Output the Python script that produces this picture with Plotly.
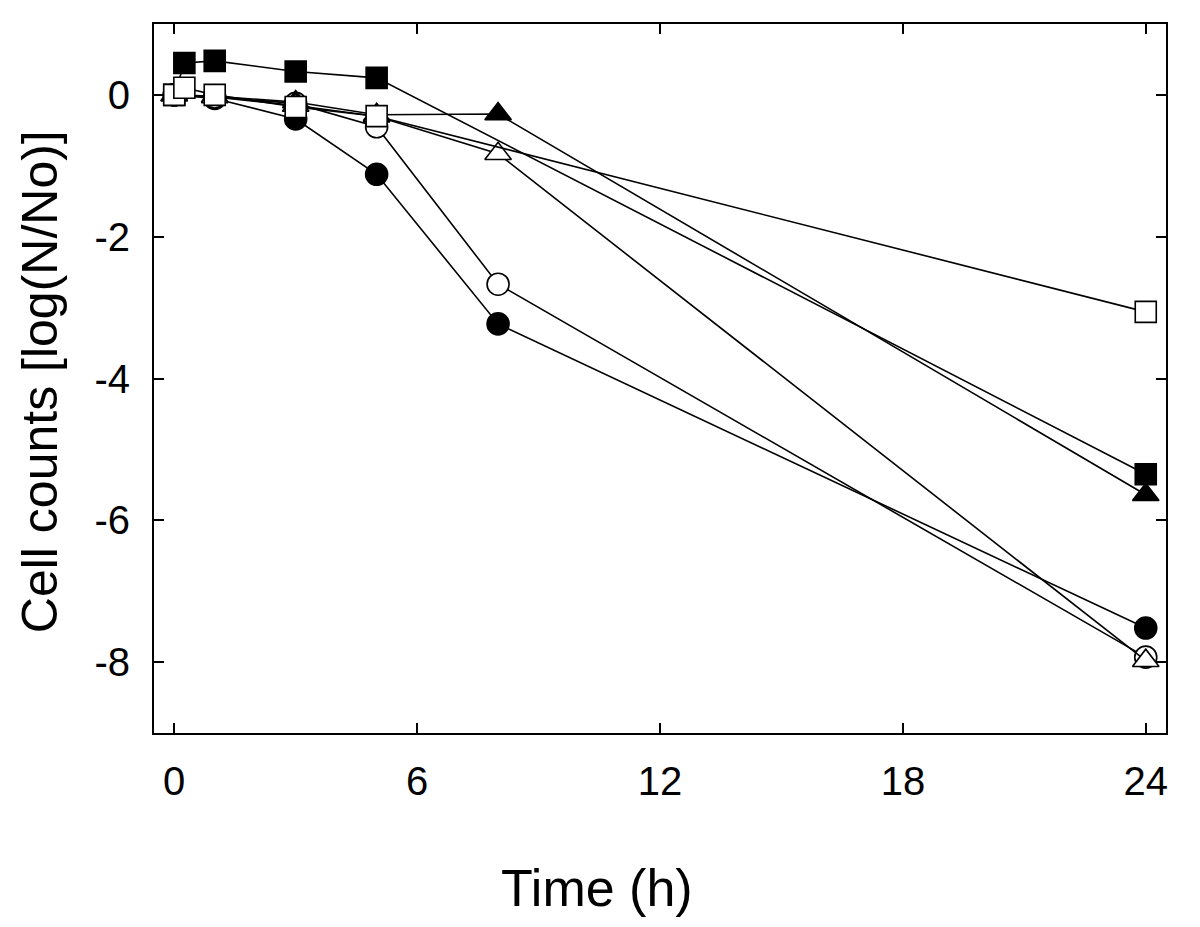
import plotly.graph_objects as go

# Data (time in hours, log(N/No))
t_filled_square = [0, 0.25, 1, 3, 5, 24]
v_filled_square = [0, 0.45, 0.48, 0.33, 0.24, -5.35]

t_open_square = [0, 0.25, 1, 3, 5, 24]
v_open_square = [0, 0.10, 0.0, -0.17, -0.30, -3.06]

t_filled_triangle = [0, 1, 3, 5, 8, 24]
v_filled_triangle = [0, -0.02, -0.10, -0.28, -0.27, -5.64]

t_open_triangle = [0, 1, 3, 5, 8, 24]
v_open_triangle = [0, -0.03, -0.15, -0.30, -0.83, -7.98]

t_filled_circle = [0, 1, 3, 5, 8, 24]
v_filled_circle = [0, -0.05, -0.34, -1.12, -3.23, -7.52]

t_open_circle = [0, 1, 3, 5, 8, 24]
v_open_circle = [0, -0.03, -0.12, -0.45, -2.67, -7.93]

x_ticks = [0, 6, 12, 18, 24]
x_ticklabels = ["0", "6", "12", "18", "24"]
y_ticks = [0, -2, -4, -6, -8]
y_ticklabels = ["0", "-2", "-4", "-6", "-8"]

FONT = "Liberation Sans, Arial, sans-serif"

series = [
    (t_open_square, v_open_square, "square", "white", 21),
    (t_filled_square, v_filled_square, "square", "black", 21),
    (t_open_triangle, v_open_triangle, "triangle-up", "white", 23),
    (t_filled_triangle, v_filled_triangle, "triangle-up", "black", 23),
    (t_open_circle, v_open_circle, "circle", "white", 22),
    (t_filled_circle, v_filled_circle, "circle", "black", 22),
]
# drawing order: circles first then triangles then squares (squares on top)
order = [5, 4, 3, 2, 1, 0]

fig = go.Figure()
for i in order:
    t, v, sym, fill, size = series[i]
    fig.add_trace(go.Scatter(
        x=t, y=v, mode="lines+markers",
        line=dict(color="black", width=1.6),
        marker=dict(symbol=sym, size=size, color=fill,
                    line=dict(color="black", width=1.6)),
        showlegend=False,
        cliponaxis=False,
    ))

axis_common = dict(
    showline=True, linecolor="black", linewidth=2,
    mirror="allticks", ticks="inside", ticklen=10, tickwidth=2,
    tickcolor="black", showgrid=False, zeroline=False,
    tickfont=dict(family=FONT, size=40, color="black"),
)

fig.update_layout(
    width=1184, height=911,
    paper_bgcolor="white", plot_bgcolor="white",
    margin=dict(l=146, r=26, t=16, b=186),
    xaxis=dict(range=[-0.5, 24.5], tickvals=x_ticks, ticktext=x_ticklabels,
               ticklabelstandoff=12, **axis_common),
    yaxis=dict(range=[-9, 1], tickvals=y_ticks, ticktext=y_ticklabels,
               ticklabelstandoff=14, **axis_common),
    annotations=[
        dict(text="Time (h)", xref="paper", yref="paper",
             x=0.438, y=-0.219, xanchor="center", yanchor="middle",
             showarrow=False, font=dict(family=FONT, size=52, color="black")),
        dict(text="Cell counts [log(N/No)]", xref="paper", yref="paper",
             x=-0.1125, y=0.495, xanchor="center", yanchor="middle",
             textangle=-90, showarrow=False,
             font=dict(family=FONT, size=50, color="black")),
    ],
)

fig.write_html("out.html")
